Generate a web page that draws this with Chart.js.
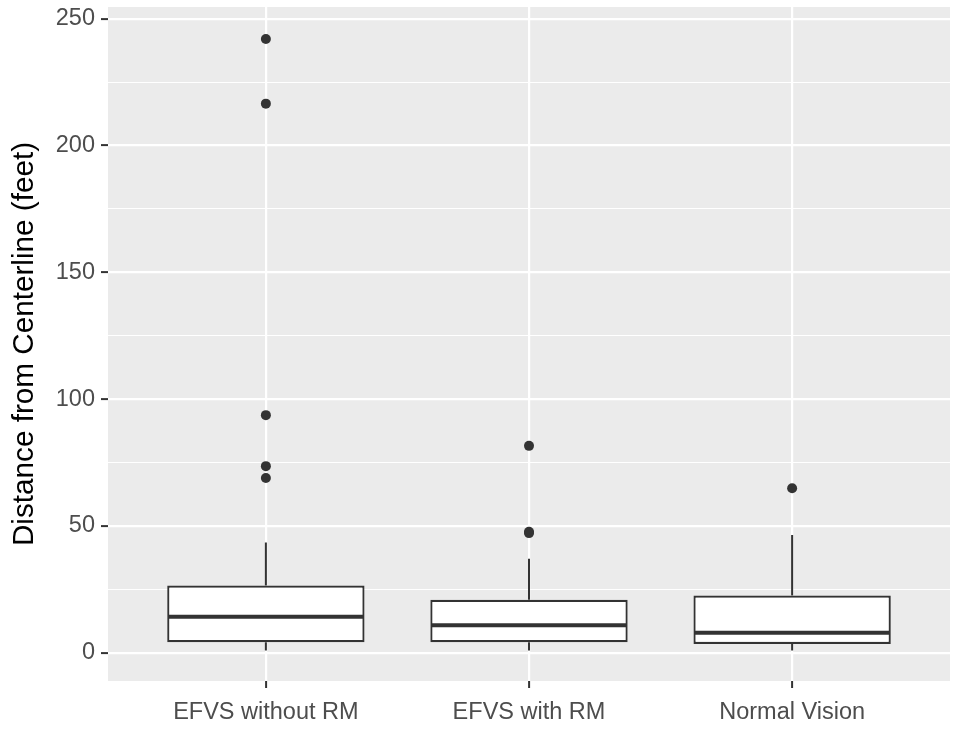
<!DOCTYPE html>
<html>
<head>
<meta charset="utf-8">
<script src="https://cdn.jsdelivr.net/npm/chart.js@4.4.0/dist/chart.umd.min.js"></script>
<style>
  html, body { margin: 0; padding: 0; background: #fff; }
  #wrap { width: 955px; height: 732px; }
</style>
</head>
<body>
<div id="wrap"><canvas id="box-chart" width="955" height="732"></canvas></div>
<script>
const categories = ['EFVS without RM', 'EFVS with RM', 'Normal Vision'];
const whiskerLow = [0.9, 0.9, 0.9];
const q1 = [4.2, 4.2, 3.5];
const median = [14.2, 10.9, 7.9];
const q3 = [26.5, 20.9, 22.6];
const whiskerHigh = [43.5, 37.1, 46.5];
const outliers = [
  [242.0, 216.5, 93.7, 73.6, 68.9],
  [81.6, 47.7, 47.2],
  [64.9]
];
const yTicks = [0, 25, 50, 75, 100, 125, 150, 175, 200, 225, 250];

const font = "'Liberation Sans', Arial, sans-serif";
const ink = '#333333';

// grey panel behind the grid, like ggplot's theme_grey
const panelBackground = {
  id: 'panelBackground',
  beforeDraw(chart) {
    const { ctx, chartArea: a } = chart;
    ctx.save();
    ctx.fillStyle = '#EBEBEB';
    ctx.fillRect(a.left, a.top, a.right - a.left, a.bottom - a.top);
    ctx.restore();
  }
};

// whiskers and median lines, placed with the chart's own scales
const boxExtras = {
  id: 'boxExtras',
  afterDatasetsDraw(chart) {
    const { ctx } = chart;
    const y = chart.scales.y;
    const bars = chart.getDatasetMeta(0).data;
    ctx.save();
    ctx.strokeStyle = ink;
    ctx.lineCap = 'butt';
    bars.forEach((bar, i) => {
      const half = bar.width / 2;
      ctx.lineWidth = 2;
      ctx.beginPath();
      ctx.moveTo(bar.x, y.getPixelForValue(q3[i]));
      ctx.lineTo(bar.x, y.getPixelForValue(whiskerHigh[i]));
      ctx.moveTo(bar.x, y.getPixelForValue(q1[i]));
      ctx.lineTo(bar.x, y.getPixelForValue(whiskerLow[i]));
      ctx.stroke();
      ctx.lineWidth = 4;
      ctx.beginPath();
      ctx.moveTo(bar.x - half + 1, y.getPixelForValue(median[i]));
      ctx.lineTo(bar.x + half - 1, y.getPixelForValue(median[i]));
      ctx.stroke();
    });
    ctx.restore();
  }
};

const outlierPoints = [];
outliers.forEach((list, i) => list.forEach(v => outlierPoints.push({ x: i, y: v })));

const ctx = document.getElementById('box-chart').getContext('2d');
const chart = new Chart(ctx, {
  type: 'bar',
  data: {
    datasets: [
      {
        label: 'box',
        data: categories.map((c, i) => ({ x: i, y: [q1[i], q3[i]] })),
        backgroundColor: '#FFFFFF',
        borderColor: ink,
        borderWidth: 2.2,
        borderSkipped: false,
        barPercentage: 0.75,
        categoryPercentage: 1.0
      },
      {
        type: 'scatter',
        label: 'outliers',
        data: outlierPoints,
        pointRadius: 5,
        pointBackgroundColor: ink,
        pointBorderWidth: 0,
        showLine: false
      }
    ]
  },
  options: {
    responsive: false,
    animation: false,
    layout: { padding: { top: 7, right: 5, left: 0, bottom: 0 } },
    plugins: {
      legend: { display: false },
      tooltip: { enabled: false }
    },
    scales: {
      x: {
        type: 'linear',
        min: -0.6,
        max: 2.6,
        offset: false,
        afterBuildTicks: (scale) => { scale.ticks = categories.map((c, i) => ({ value: i })); },
        afterFit: (scale) => { scale.height = 51; scale.paddingLeft = 0; scale.paddingRight = 0; },
        border: { display: false },
        grid: {
          offset: false,
          color: '#FFFFFF',
          lineWidth: 2.2,
          drawTicks: true,
          tickColor: ink,
          tickLength: 7,
          tickWidth: 2
        },
        ticks: {
          autoSkip: false,
          maxRotation: 0,
          padding: 10,
          color: '#4D4D4D',
          font: { family: font, size: 23.5 },
          callback: (v) => categories[v]
        }
      },
      y: {
        min: -11.1,
        max: 254.6,
        afterBuildTicks: (scale) => { scale.ticks = yTicks.map(v => ({ value: v })); },
        afterFit: (scale) => { scale.width = 108; scale.paddingTop = 0; scale.paddingBottom = 0; },
        border: { display: false },
        grid: {
          color: '#FFFFFF',
          lineWidth: (c) => (c.tick && c.tick.value % 50 === 0 ? 2.2 : 1.1),
          drawTicks: true,
          tickColor: (c) => (c.tick && c.tick.value % 50 === 0 ? ink : 'rgba(0,0,0,0)'),
          tickLength: 7,
          tickWidth: 2
        },
        ticks: {
          padding: 6,
          color: '#4D4D4D',
          font: { family: font, size: 23.5 },
          callback: (v) => (v % 50 === 0 ? v : '')
        },
        title: {
          display: true,
          text: 'Distance from Centerline (feet)',
          color: '#000000',
          font: { family: font, size: 29.7, lineHeight: 1 },
          padding: { top: 10, bottom: 0 }
        }
      }
    }
  },
  plugins: [panelBackground, boxExtras]
});
</script>
</body>
</html>
